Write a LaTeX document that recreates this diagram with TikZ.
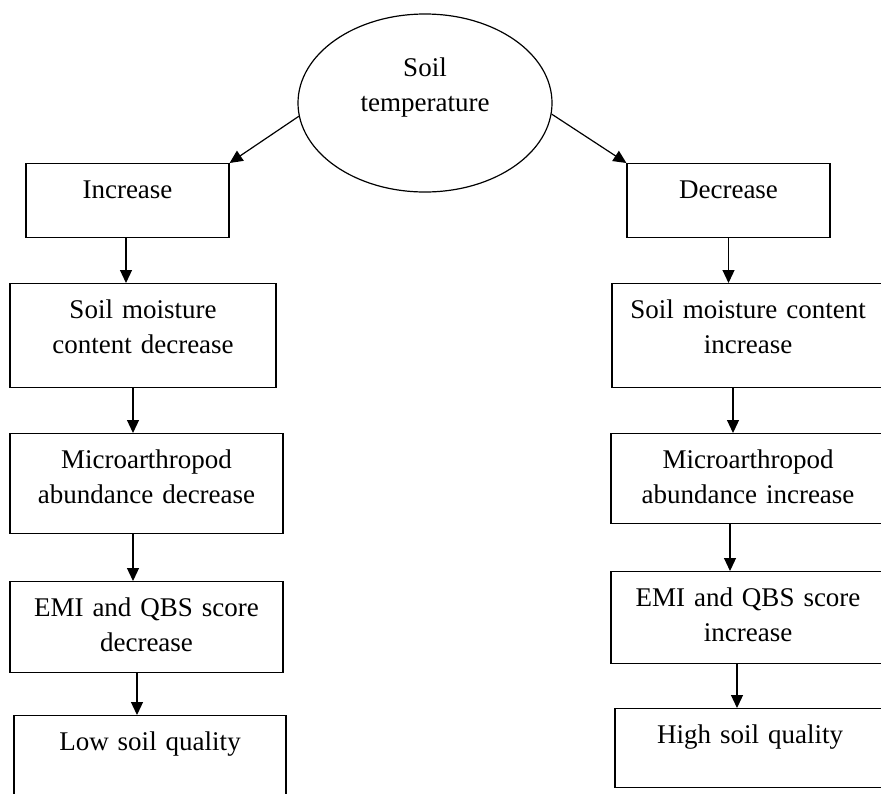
\documentclass[tikz,border=0pt]{standalone}
\usepackage{fontspec}
\setmainfont{Liberation Serif}
\usetikzlibrary{shapes.geometric,arrows.meta}

\begin{document}
\begin{tikzpicture}[x=0.5pt, y=-0.5pt, line width=0.6pt,
    every node/.style={font=\fontsize{13.5}{17.5}\selectfont}]
  \tikzset{
    stage/.style={draw, inner sep=0pt, align=center, anchor=north, text height=17.5pt},
    arr/.style={-{Triangle[length=6.5pt, width=6pt]}}
  }
  \useasboundingbox (0,0) rectangle (881,793);
  \clip (0,0) rectangle (881,793);

  % cause
  \node[ellipse, draw, inner sep=0pt, minimum width=127pt, minimum height=89pt,
        text width=80pt, align=center, text height=10pt, text depth=37pt]
        (temp) at (425,103) {Soil\\temperature};

  % left branch
  \node[stage, text width=101.5pt, text depth=19.5pt] (inc)    at (127.5,163) {Increase};
  \node[stage, text width=133pt,   text depth=34.5pt] (lmoist) at (143,283)   {Soil moisture\\content decrease};
  \node[stage, text width=136.5pt, text depth=32.5pt] (lmicro) at (146.5,433) {Microarthropod\\abundance decrease};
  \node[stage, text width=136.5pt, text depth=28pt]   (lemi)   at (146.5,581) {EMI and QBS score\\decrease};
  \node[stage, text width=136pt,   text depth=37.5pt] (low)    at (150,715)   {Low soil quality};

  % right branch
  \node[stage, text width=101.5pt, text depth=19.5pt] (dec)    at (728.5,163) {Decrease};
  \node[stage, text width=136pt,   text depth=34.5pt] (rmoist) at (748,283)   {Soil moisture content\\increase};
  \node[stage, text width=137pt,   text depth=27.5pt] (rmicro) at (748,433)   {Microarthropod\\abundance increase};
  \node[stage, text width=137pt,   text depth=28.5pt] (remi)   at (748,571)   {EMI and QBS score\\increase};
  \node[stage, text width=135pt,   text depth=22pt]   (high)   at (750,708)   {High soil quality};

  \draw[arr] (temp.186) -- (inc.north east);
  \draw[arr] (temp.-5) -- (dec.north west);

  \foreach \a/\b/\dx in {inc/lmoist/-0.75, lmoist/lmicro/-5, lmicro/lemi/-6.75, lemi/low/-4.75,
                         dec/rmoist/0, rmoist/rmicro/-7.5, rmicro/remi/-9, remi/high/-5.5}
    \draw[arr] ([xshift=\dx pt]\a.south) coordinate (s) -- (s |- \b.north);
\end{tikzpicture}
\end{document}
